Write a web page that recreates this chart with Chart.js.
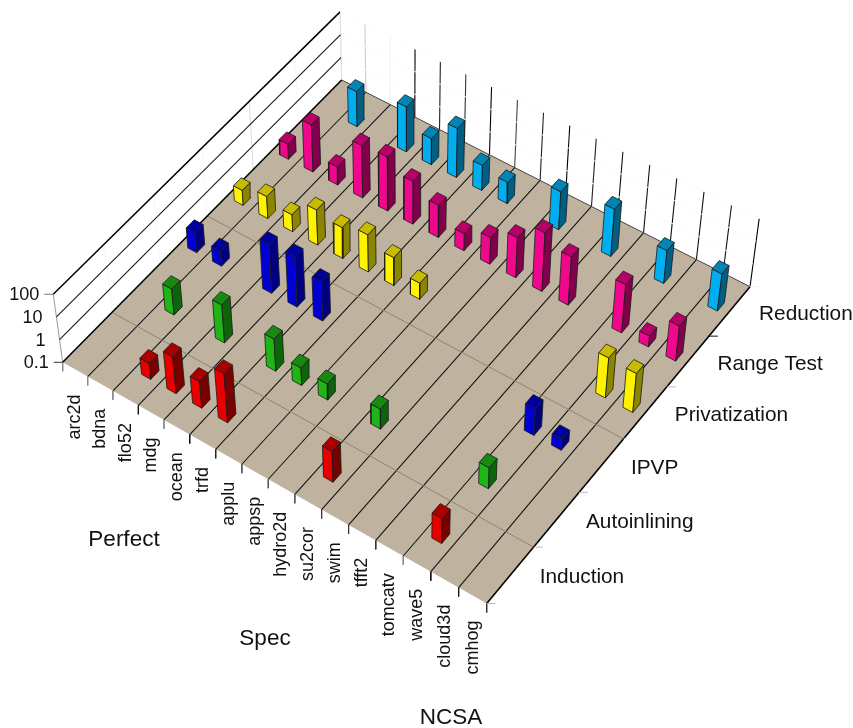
<!DOCTYPE html>
<html>
<head>
<meta charset="utf-8">
<style>
  html, body { margin: 0; padding: 0; background: #fff; }
  #wrap { width: 853px; height: 728px; }
</style>
<script src="https://cdn.jsdelivr.net/npm/chart.js@4"></script>
</head>
<body>
<div id="wrap"><canvas id="bars3d" width="853" height="728"></canvas></div>
<script>
const categories = ["arc2d", "bdna", "flo52", "mdg", "ocean", "trfd", "applu", "appsp",
    "hydro2d", "su2cor", "swim", "tfft2", "tomcatv", "wave5", "cloud3d", "cmhog"];
const techniques = ["Induction", "Autoinlining", "IPVP", "Privatization", "Range Test", "Reduction"];
const zTicks = ["0.1", "1", "10", "100"];
const groupTitles = ["Perfect", "Spec", "NCSA"];

// one value per benchmark, null = no bar
const induction     = [null, null, 0.51, 4.3, 1.5, 14.5, null, null, null, 2.3, null, null, null, 1.26, null, null];
const autoinlining  = [null, 1.4, null, 4.7, null, 2.6, 0.6, 0.51, null, 0.76, null, null, null, 0.84, null, null];
const ipvp          = [0.76, 0.46, null, 13.5, 16, 5.2, null, null, null, null, null, null, null, 1.5, 0.31, null];
const privatization = [0.46, 0.93, 0.56, 3.5, 2.3, 4.3, 1.7, 0.51, null, null, null, null, null, null, 5.8, 5.2];
const rangeTest     = [0.46, 12, 0.62, 20, 24, 7.8, 2.6, 0.56, 1.5, 5.8, 38, 13.5, null, 13.5, 0.3, 3.5];
const reduction     = [null, 3.5, null, 9.6, 1.4, 14.5, 1.26, 0.84, null, 4.7, null, 12, null, 2.8, null, 4.3];

const seriesValues = [induction, autoinlining, ipvp, privatization, rangeTest, reduction];

// front, side, top colours for each row
const seriesColors = [
    ["#e60000", "#780000", "#ac0000"],
    ["#1fb516", "#0e640a", "#188a10"],
    ["#0000d4", "#000080", "#00009e"],
    ["#fff200", "#8c8500", "#c8bc00"],
    ["#f0088c", "#82004b", "#b80069"],
    ["#00aeef", "#005f82", "#0085b5"]
];

/* FLOOR PROJECTION: corners of the floor on the page, then a homography */
const cornerA = [62.7, 362.3], cornerB = [486.7, 603.5], cornerC = [750, 286.7], cornerD = [341.7, 80];
const decadePx = 22.7;
const vanish = [406, 2838];

const sx = cornerA[0] - cornerB[0] + cornerC[0] - cornerD[0];
const sy = cornerA[1] - cornerB[1] + cornerC[1] - cornerD[1];
const dx1 = cornerB[0] - cornerC[0], dx2 = cornerD[0] - cornerC[0];
const dy1 = cornerB[1] - cornerC[1], dy2 = cornerD[1] - cornerC[1];
const den = dx1 * dy2 - dx2 * dy1;
const hg = (sx * dy2 - dx2 * sy) / den;
const hh = (dx1 * sy - sx * dy1) / den;

function project(u, v, w) {
    const s = u / categories.length, t = v / techniques.length;
    const q = hg * s + hh * t + 1;
    const fx = ((cornerB[0] - cornerA[0] + hg * cornerB[0]) * s + (cornerD[0] - cornerA[0] + hh * cornerD[0]) * t + cornerA[0]) / q;
    const fy = ((cornerB[1] - cornerA[1] + hg * cornerB[1]) * s + (cornerD[1] - cornerA[1] + hh * cornerD[1]) * t + cornerA[1]) / q;
    const lift = (w || 0) * decadePx;
    return {
        x: fx + (fx - vanish[0]) / (vanish[1] - fy) * lift,
        y: fy - lift
    };
}

const painted = [];

function shape(points, fillColor, lineColor, lineWidth) {
    painted.push({
        data: points.concat([points[0]]),
        showLine: true,
        fill: "shape",
        backgroundColor: fillColor,
        borderColor: lineColor,
        borderWidth: lineWidth,
        pointRadius: 0,
        tension: 0,
        clip: false
    });
}

function line(a, b, color, width) {
    painted.push({
        data: [a, b],
        showLine: true,
        fill: false,
        borderColor: color,
        borderWidth: width,
        pointRadius: 0,
        tension: 0,
        clip: false
    });
}

const nu = categories.length, nv = techniques.length;
const floorGray = "#bfb39f";

/* WALLS */
const leftWallTicks = ["#999999", "#f8f8f8", "#f8f8f8", "#f8f8f8", "#dcdcdc", "#f8f8f8", "#e2e2e2"];
for (let v = 0; v <= nv; v++) {
    line(project(0, v, 0), project(0, v, 3), leftWallTicks[v], 1);
}
const backWallTicks = ["#e2e2e2", "#cccccc", "#f2f2f2", "#000000", "#222222", "#333333", "#000000", "#444444",
    "#222222", "#000000", "#222222", "#111111", "#111111", "#111111", "#111111", "#111111", "#000000"];
for (let u = 0; u <= nu; u++) {
    line(project(u, nv, 0), project(u, nv, 3), backWallTicks[u], 1.1);
}
line(project(0, 0, 3), project(0, nv, 3), "#000000", 1.5);
line(project(0, 0, 2), project(0, nv, 2), "#222222", 1.2);
line(project(0, 0, 1), project(0, nv, 1), "#222222", 1.2);
for (let w = 1; w <= 3; w++) {
    line(project(0, nv, w), project(nu, nv, w), "#fafafa", 1);
}

/* FLOOR */
shape([project(0, 0), project(nu, 0), project(nu, nv), project(0, nv)], floorGray, floorGray, 0);
for (let u = 1; u < nu; u++) {
    line(project(u, 0), project(u, nv), "#111111", 1.05);
}
line(project(0, 1), project(nu, 1), "#8d8474", 1);
line(project(0, 3), project(nu, 3), "#8d8474", 1);
line(project(0, 0), project(0, nv), "#000000", 1.6);
line(project(nu, 0), project(nu, nv), "#000000", 1.6);
line(project(0, nv), project(nu, nv), "#444444", 1);

/* TICK MARKS */
const frontTicks = ["#888888", "#888888", "#888888", "#111111", "#888888", "#111111", "#222222", "#555555", "#555555",
    "#555555", "#333333", "#333333", "#333333", "#888888", "#111111", "#111111", "#333333"];
for (let u = 0; u <= nu; u++) {
    const p = project(u, 0);
    line(p, { x: p.x, y: p.y + 9 }, frontTicks[u], 1);
}
const sideTicks = ["#bbbbbb", "#bbbbbb", "#bbbbbb", "#f0f0f0", "#bbbbbb", "#111111", "#f0f0f0"];
for (let v = 0; v <= nv; v++) {
    const p = project(nu, v);
    line(p, { x: p.x + 9, y: p.y }, sideTicks[v], 1);
}
const z0 = project(0, 0, 0), z3 = project(0, 0, 3);
line(z0, { x: z0.x - 9, y: z0.y }, "#333333", 1);
line(z3, { x: z3.x - 9, y: z3.y }, "#777777", 1);

/* BARS, back row first so nearer bars cover farther ones */
const du = 0.18, dv = 0.085;
for (let v = nv - 1; v >= 0; v--) {
    const values = seriesValues[v];
    const colors = seriesColors[v];
    for (let u = 0; u < nu; u++) {
        if (values[u] === null) continue;
        const w = Math.log10(values[u]) + 1;
        const cu = u + 0.5, cv = v + 0.5;
        const edge = "#1a1a1a";
        shape([project(cu - du, cv - dv, 0), project(cu + du, cv - dv, 0),
               project(cu + du, cv - dv, w), project(cu - du, cv - dv, w)], colors[0], edge, 0.8);
        shape([project(cu + du, cv - dv, 0), project(cu + du, cv + dv, 0),
               project(cu + du, cv + dv, w), project(cu + du, cv - dv, w)], colors[1], edge, 0.8);
        shape([project(cu - du, cv - dv, w), project(cu + du, cv - dv, w),
               project(cu + du, cv + dv, w), project(cu - du, cv + dv, w)], colors[2], edge, 0.8);
    }
}

/* TEXT IS DRAWN THROUGH THE SAME SCALES AS THE MARKS */
const axisText = {
    id: "axisText",
    afterDatasetsDraw(chart) {
        const ctx = chart.ctx;
        const px = chart.scales.x, py = chart.scales.y;
        ctx.save();
        ctx.fillStyle = "#111111";

        ctx.font = '18px "Liberation Sans"';
        ctx.textAlign = "right";
        ctx.textBaseline = "middle";
        categories.forEach((name, i) => {
            const p = project(i + 0.5, 0);
            ctx.save();
            ctx.translate(px.getPixelForValue(p.x), py.getPixelForValue(p.y) + 25);
            ctx.rotate(-Math.PI / 2);
            ctx.fillText(name, 0, 0);
            ctx.restore();
        });

        zTicks.forEach((name, i) => {
            const p = project(0, 0, i);
            ctx.fillText(name, px.getPixelForValue(p.x) - 14, py.getPixelForValue(p.y) + 1);
        });

        ctx.font = '20.8px "Liberation Sans"';
        ctx.textAlign = "left";
        techniques.forEach((name, i) => {
            const p = project(nu, i + 0.5);
            ctx.fillText(name, px.getPixelForValue(p.x) + 29.5, py.getPixelForValue(p.y) + 2.5);
        });

        ctx.font = '22.5px "Liberation Sans"';
        ctx.textAlign = "center";
        ctx.fillText(groupTitles[0], 124, 540);
        ctx.fillText(groupTitles[1], 265, 639);
        ctx.fillText(groupTitles[2], 451, 718);
        ctx.restore();
    }
};

new Chart(document.getElementById("bars3d").getContext("2d"), {
    type: "scatter",
    data: { datasets: painted.slice().reverse() },
    options: {
        responsive: false,
        animation: false,
        layout: { padding: 0 },
        plugins: { legend: { display: false }, tooltip: { enabled: false } },
        scales: {
            x: { type: "linear", min: 0, max: 853, display: false },
            y: { type: "linear", min: 0, max: 728, reverse: true, display: false }
        }
    },
    plugins: [axisText]
});
</script>
</body>
</html>
